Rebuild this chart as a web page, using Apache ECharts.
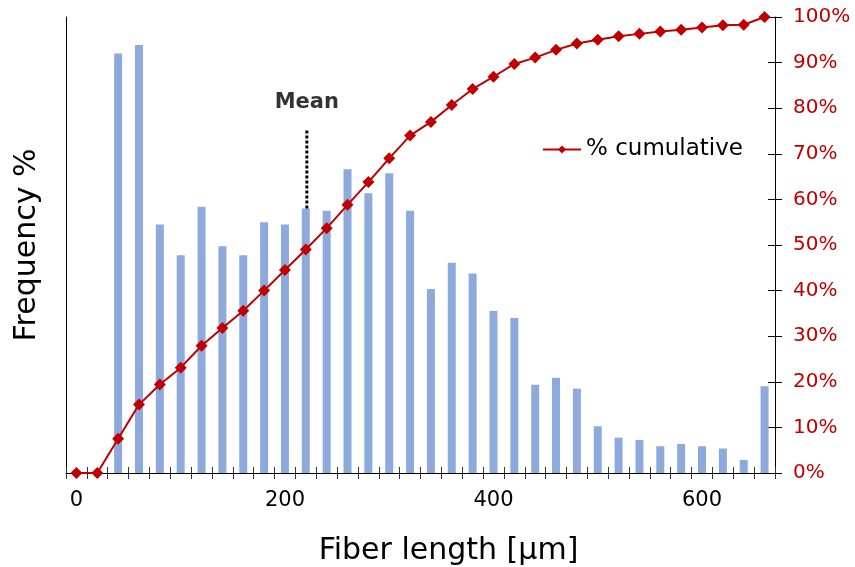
<!DOCTYPE html>
<html>
<head>
<meta charset="utf-8">
<script src="https://cdn.jsdelivr.net/npm/echarts@6/dist/echarts.min.js"></script>
<style>html,body{margin:0;padding:0;background:#fff}#c{width:855px;height:567px}</style>
</head>
<body>
<div id="c"></div>
<script>
// Fiber length classes (µm)
var categories = [0,20,40,60,80,100,120,140,160,180,200,220,240,260,280,300,320,340,360,380,400,420,440,460,480,500,520,540,560,580,600,620,640,660];
// Frequency % per class (bars)
var frequency = [null,null,7.36,7.51,4.36,3.82,4.67,3.98,3.82,4.40,4.36,4.64,4.60,5.33,4.91,5.26,4.60,3.23,3.69,3.50,2.84,2.72,1.55,1.67,1.48,0.82,0.62,0.58,0.47,0.51,0.47,0.43,0.23,1.52];
// % cumulative (line)
var cumulative = [0,0,7.5,15.0,19.4,23.1,27.9,31.8,35.6,40.0,44.5,49.0,53.7,58.8,63.8,69.0,74.0,77.0,80.7,84.2,86.9,89.7,91.1,92.8,94.2,95.0,95.8,96.3,96.8,97.2,97.7,98.2,98.3,100];
// Mean fiber length and its marker extent (frequency units)
var meanValue = 221;
var meanLine = [4.64, 6.02];
var meanLabelY = 6.5;
var xTickLabels = ['0','200','400','600'];

var chart = echarts.init(document.getElementById('c'), null, {renderer:'canvas'});
var red = '#c00000';
var font = 'DejaVu Sans';

var option = {
  animation: false,
  textStyle: {fontFamily: font},
  grid: {left: 66, right: 80, top: 17, bottom: 94, containLabel: false, outerBoundsMode: 'none'},
  legend: {
    data: ['% cumulative'],
    left: 542, top: 138, padding: 0,
    itemWidth: 38, itemHeight: 10, itemGap: 0,
    textStyle: {fontFamily: font, fontSize: 23, color: '#000'}
  },
  xAxis: [
    {
      type: 'category', data: categories, position: 'bottom',
      boundaryGap: true,
      axisLine: {show: true, onZero: false, lineStyle: {color: '#000', width: 1}},
      axisTick: {show: true, interval: 0, length: 6, lineStyle: {color: '#333'}},
      axisLabel: {
        interval: 9, margin: 17, fontFamily: font, fontSize: 21, color: '#000',
        formatter: function (v) { return xTickLabels.indexOf(String(v)) >= 0 ? String(v) : ''; }
      },
      splitLine: {show: false},
      name: 'Fiber length [μm]', nameLocation: 'middle', nameGap: 63,
      nameTextStyle: {fontFamily: font, fontSize: 30, color: '#000', padding: [0,0,0,56]}
    },
    {
      type: 'category', data: categories, position: 'bottom',
      boundaryGap: true,
      axisLine: {show: false, onZero: false},
      axisTick: {show: true, inside: true, interval: 0, length: 6, lineStyle: {color: '#333'}},
      axisLabel: {show: false},
      splitLine: {show: false}
    },
    {
      type: 'value', min: -10, max: 670, show: false,
      axisLine: {onZero: false}
    }
  ],
  yAxis: [
    {
      type: 'value', min: 0, max: 8, position: 'left',
      axisLine: {show: true, onZero: false, lineStyle: {color: '#000', width: 1}},
      axisTick: {show: false}, axisLabel: {show: false}, splitLine: {show: false},
      name: 'Frequency %', nameLocation: 'middle', nameGap: 24,
      nameTextStyle: {fontFamily: font, fontSize: 30, color: '#000'}
    },
    {
      type: 'value', min: 0, max: 100, interval: 10, position: 'right',
      axisLine: {show: true, onZero: false, lineStyle: {color: '#000', width: 1}},
      axisTick: {show: true, length: 7, lineStyle: {color: '#000'}},
      axisLabel: {margin: 18, fontFamily: font, fontSize: 20, color: red, formatter: '{value}%'},
      splitLine: {show: false}
    },
    {
      type: 'value', min: 0, max: 100, interval: 10, position: 'right',
      axisLine: {show: false, onZero: false},
      axisTick: {show: true, inside: true, length: 7, lineStyle: {color: '#000'}},
      axisLabel: {show: false}, splitLine: {show: false}
    }
  ],
  series: [
    {
      name: 'Frequency', type: 'bar', xAxisIndex: 0, yAxisIndex: 0,
      data: frequency, barWidth: 8,
      itemStyle: {color: '#8eaadc'}
    },
    {
      name: 'Mean line', type: 'line', xAxisIndex: 2, yAxisIndex: 0,
      data: [[meanValue, meanLine[0]], [meanValue, meanLine[1]]],
      symbol: 'none',
      lineStyle: {color: '#000', width: 3, type: [3, 2]},
      z: 5
    },
    {
      name: 'Mean', type: 'scatter', xAxisIndex: 2, yAxisIndex: 0,
      data: [[meanValue, meanLabelY]], symbolSize: 0,
      label: {show: true, position: 'inside', formatter: 'Mean', fontFamily: font, fontWeight: 'bold', fontSize: 21, color: '#000', textBorderWidth: 0}
    },
    {
      name: '% cumulative', type: 'line', xAxisIndex: 0, yAxisIndex: 1,
      data: cumulative,
      symbol: 'diamond', symbolSize: 12,
      itemStyle: {color: red},
      lineStyle: {color: red, width: 2},
      z: 10
    }
  ]
};
chart.setOption(option);
</script>
</body>
</html>
